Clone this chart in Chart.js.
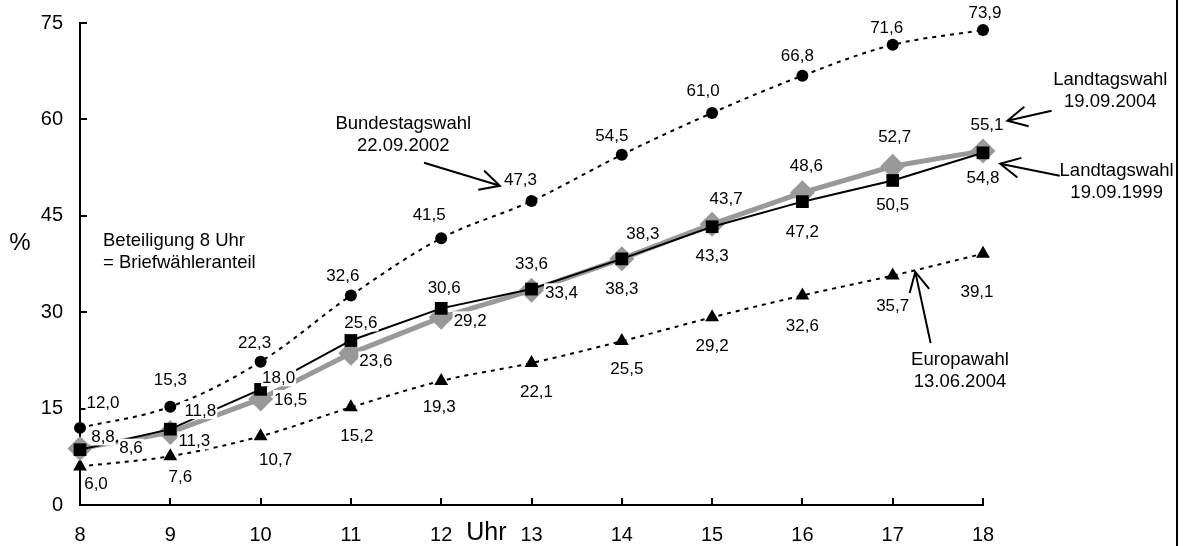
<!DOCTYPE html>
<html lang="de">
<head>
<meta charset="utf-8">
<title>Wahlbeteiligung im Tagesverlauf</title>
<script src="https://cdn.jsdelivr.net/npm/chart.js@4.4.1/dist/chart.umd.min.js"></script>
<style>
  html,body{margin:0;padding:0;background:#fff}
  #wrap{position:relative;width:1184px;height:546px}
</style>
</head>
<body>
<div id="wrap"><canvas id="chart" width="1184" height="546"></canvas></div>
<script>
/* Wahlbeteiligung nach Uhrzeit — vier Wahlen im Vergleich */

const HOURS    = [8, 9, 10, 11, 12, 13, 14, 15, 16, 17, 18];
const Y_TICKS  = [0, 15, 30, 45, 60, 75];

const BTW_2002 = [12.0, 15.3, 22.3, 32.6, 41.5, 47.3, 54.5, 61.0, 66.8, 71.6, 73.9];
const LTW_2004 = [8.8, 11.3, 16.5, 23.6, 29.2, 33.4, 38.3, 43.7, 48.6, 52.7, 55.1];
const LTW_1999 = [8.6, 11.8, 18.0, 25.6, 30.6, 33.6, 38.3, 43.3, 47.2, 50.5, 54.8];
const EUW_2004 = [6.0, 7.6, 10.7, 15.2, 19.3, 22.1, 25.5, 29.2, 32.6, 35.7, 39.1];

// label nudges in px (dx, dy) per point, relative to the marker
const LBL_1999 = [[51,-2],[30,-19],[18,-12],[10,-18],[3,-21],[0,-26],[0,29],[0,29],[0,30],[0,24],[0,24]];
const LBL_2004 = [[23,-12],[24,8],[30,0],[25,7],[29,3],[30,2],[21,-26],[14,-26],[4,-27],[2,-30],[4,-27]];
const LBL_2002 = [[23,-26],[0,-27],[-6,-19],[-8,-20],[-12,-24],[-11,-22],[-10,-19],[-9,-23],[-5,-20],[-6,-18],[2,-18]];
const LBL_EU   = [[16,17],[10,20],[15,23],[6,28],[-2,25],[5,28],[5,27],[0,28],[0,30],[0,30],[-6,38]];

// annotations, anchored in data units (hour, %)
const NOTES = [
  { lines:['Bundestagswahl','22.09.2002'], at:[11.58, 57.6], align:'center', tail:[11.81, 53.25], tip:[12.65, 49.67] },
  { lines:['Landtagswahl','19.09.2004'],   at:[19.41, 64.45], align:'center', tail:[18.76, 61.34], tip:[18.27, 59.79] },
  { lines:['Landtagswahl','19.09.1999'],   at:[19.48, 50.21], align:'center', tail:[18.85, 51.22], tip:[18.19, 53.09] },
  { lines:['Europawahl','13.06.2004'],     at:[17.745, 20.79], align:'center', tail:[17.42, 25.22], tip:[17.25, 36.28] },
  { lines:['Beteiligung 8 Uhr','= Briefwähleranteil'], at:[8.255, 39.39], align:'left' },
];

const FONT = "'Liberation Sans', Arial, sans-serif";
const GREY = '#999999';

const pts = arr => arr.map((v, i) => ({ x: HOURS[i], y: v }));
const fmt = v => v.toFixed(1).replace('.', ',');

const datasets = [
  { data: pts(LTW_1999), lbl: LBL_1999, borderColor:'#000', backgroundColor:'#000', borderWidth:2,
    pointStyle:'rect', pointRadius:9, pointBorderWidth:0, tension:0, clip:false },
  { data: pts(LTW_2004), lbl: LBL_2004, borderColor:GREY, backgroundColor:GREY, borderWidth:5,
    pointStyle:'rectRot', pointRadius:12.5, pointBorderWidth:0, tension:0, clip:false },
  { data: pts(BTW_2002), lbl: LBL_2002, borderColor:'#000', backgroundColor:'#000', borderWidth:2, borderDash:[4,5],
    pointStyle:'circle', pointRadius:6, pointBorderWidth:0, tension:0.35, clip:false },
  { data: pts(EUW_2004), lbl: LBL_EU, borderColor:'#000', backgroundColor:'#000', borderWidth:2, borderDash:[4,5],
    pointStyle:'triangle', pointRadius:8, pointBorderWidth:0, tension:0.35, clip:false },
];

function arrow(ctx, x1, y1, x2, y2) {
  const ang = Math.atan2(y2 - y1, x2 - x1), len = 22, spread = 27 * Math.PI / 180;
  ctx.beginPath();
  ctx.moveTo(x1, y1); ctx.lineTo(x2, y2);
  ctx.moveTo(x2 - len * Math.cos(ang - spread), y2 - len * Math.sin(ang - spread));
  ctx.lineTo(x2, y2);
  ctx.lineTo(x2 - len * Math.cos(ang + spread), y2 - len * Math.sin(ang + spread));
  ctx.stroke();
}

const decor = {
  id: 'decor',
  afterDatasetsDraw(chart) {
    const { ctx, chartArea: a } = chart;
    const x = chart.scales.x, y = chart.scales.y;
    ctx.save();
    ctx.strokeStyle = '#000'; ctx.lineWidth = 2; ctx.setLineDash([]);

    // tick marks point inward
    Y_TICKS.forEach(v => {
      const py = Math.round(y.getPixelForValue(v));
      ctx.beginPath(); ctx.moveTo(a.left, py); ctx.lineTo(a.left + 7, py); ctx.stroke();
    });
    HOURS.forEach(h => {
      const px = Math.round(x.getPixelForValue(h));
      ctx.beginPath(); ctx.moveTo(px, a.bottom); ctx.lineTo(px, a.bottom - 7); ctx.stroke();
    });

    // value labels on white boxes (they cover the lines, as in the original)
    ctx.font = `17px ${FONT}`;
    ctx.textAlign = 'center'; ctx.textBaseline = 'middle';
    chart.data.datasets.forEach((ds, di) => {
      chart.getDatasetMeta(di).data.forEach((pt, i) => {
        const txt = fmt(ds.data[i].y);
        const [dx, dy] = ds.lbl[i];
        const cx = pt.x + dx, cy = pt.y + dy;
        const w = ctx.measureText(txt).width;
        ctx.fillStyle = '#fff';
        ctx.fillRect(cx - w / 2 - 1, cy - 9, w + 2, 18);
        ctx.fillStyle = '#000';
        ctx.fillText(txt, cx, cy + 1);
      });
    });

    // annotations with open arrows
    ctx.font = `18.5px ${FONT}`;
    NOTES.forEach(n => {
      const tx = x.getPixelForValue(n.at[0]), ty = y.getPixelForValue(n.at[1]);
      ctx.textAlign = n.align;
      n.lines.forEach((s, k) => ctx.fillText(s, tx, ty + (k - (n.lines.length - 1) / 2) * 22));
      if (n.tip) {
        arrow(ctx, x.getPixelForValue(n.tail[0]), y.getPixelForValue(n.tail[1]),
                   x.getPixelForValue(n.tip[0]),  y.getPixelForValue(n.tip[1]));
      }
    });

    // axis captions
    ctx.textAlign = 'center';
    ctx.font = `24px ${FONT}`;
    ctx.fillText('%', 20, 243);
    ctx.font = `25px ${FONT}`;
    ctx.fillText('Uhr', x.getPixelForValue(12.5), 533);

    // frame line on the right edge
    ctx.beginPath(); ctx.moveTo(1177, 0); ctx.lineTo(1177, chart.height); ctx.stroke();
    ctx.restore();
  }
};

new Chart(document.getElementById('chart'), {
  type: 'line',
  data: { datasets },
  options: {
    responsive: false,
    animation: false,
    layout: { padding: { left: 0, right: 201, top: 23, bottom: 0 } },
    plugins: { legend: { display: false }, tooltip: { enabled: false } },
    scales: {
      x: {
        type: 'linear', min: 8, max: 18,
        afterFit: s => { s.height = 41; },
        grid: { display: false, drawTicks: false, tickLength: 0 },
        border: { display: true, color: '#000', width: 2 },
        ticks: { stepSize: 1, color: '#000', padding: 18, font: { family: FONT, size: 20 } },
      },
      y: {
        min: 0, max: 75,
        afterFit: s => { s.width = 80; s.paddingTop = 0; s.paddingBottom = 0; },
        grid: { display: false, drawTicks: false, tickLength: 0 },
        border: { display: true, color: '#000', width: 2 },
        ticks: { stepSize: 15, color: '#000', padding: 17, font: { family: FONT, size: 20 } },
      },
    },
  },
  plugins: [decor],
});
</script>
</body>
</html>
